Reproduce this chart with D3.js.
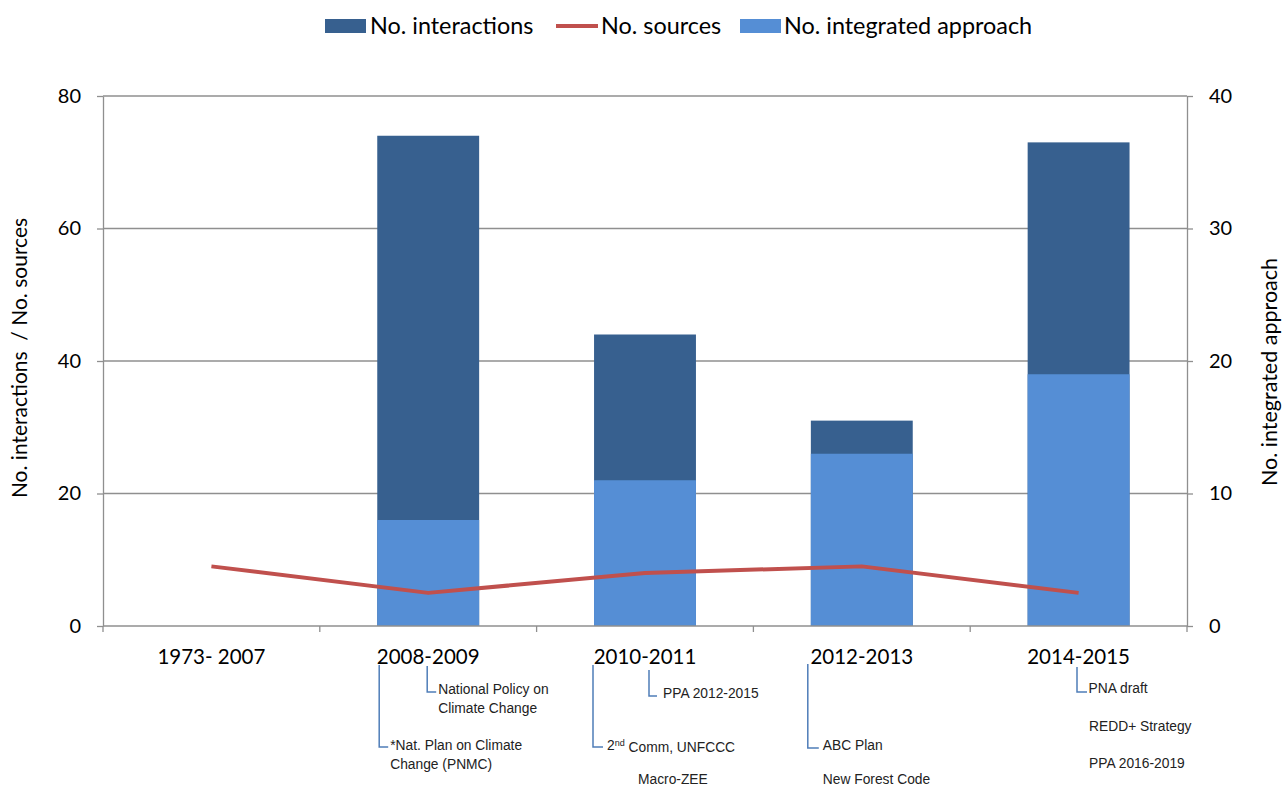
<!DOCTYPE html>
<html><head><meta charset="utf-8">
<script src="https://cdn.jsdelivr.net/npm/d3@7"></script>
<style>body{margin:0;background:#fff}svg{display:block}</style>
</head><body>
<svg id="c" width="1283" height="787"></svg>
<script>
// ---- data ----
const categories = ["1973- 2007","2008-2009","2010-2011","2012-2013","2014-2015"];
const interactions = [0, 74, 44, 31, 73];       // left axis
const sources = [9, 5, 8, 9, 5];                 // left axis (line)
const integrated = [0, 8, 11, 13, 19];           // right axis
const leftTicks = [0, 20, 40, 60, 80];
const rightTicks = [0, 10, 20, 30, 40];
const legendLabels = ["No. interactions", "No. sources", "No. integrated approach"];
const leftTitle = "No. interactions  / No. sources";
const rightTitle = "No. integrated approach";
// annotation texts below categories
const annotationTexts = [
  {cat: 1, text: ["*Nat. Plan on Climate", "Change (PNMC)"]},
  {cat: 1, text: ["National Policy on", "Climate Change"]},
  {cat: 2, text: ["2|nd| Comm, UNFCCC"]},
  {cat: 2, text: ["Macro-ZEE"]},
  {cat: 2, text: ["PPA 2012-2015"]},
  {cat: 3, text: ["ABC Plan"]},
  {cat: 3, text: ["New Forest Code"]},
  {cat: 4, text: ["PNA draft"]},
  {cat: 4, text: ["REDD+ Strategy"]},
  {cat: 4, text: ["PPA 2016-2019"]}
];

// ---- layout ----
const svg = d3.select("#c");
const L = 103, R = 1187, T = 96, B = 626;
const darkC = "#37608F", lightC = "#558ED5", redC = "#C0504D", gridC = "#8F8F8F", annC = "#4F7DB8";
const font = "Lato, 'Open Sans', sans-serif";

const x = d3.scaleBand().domain(categories).range([L, R]).padding(0);
const yL = d3.scaleLinear().domain([0, 80]).range([B, T]);
const yR = d3.scaleLinear().domain([0, 40]).range([B, T]);
const bw = x.bandwidth() * 0.47;
const cx = c => x(c) + x.bandwidth() / 2;

// gridlines
svg.append("g").selectAll("line").data(leftTicks.filter(d => d > 0)).join("line")
  .attr("x1", L).attr("x2", R).attr("y1", d => yL(d)).attr("y2", d => yL(d))
  .attr("stroke", gridC).attr("stroke-width", 1.3);

// bars
svg.append("g").selectAll("rect").data(categories).join("rect")
  .attr("x", d => cx(d) - bw / 2).attr("width", bw)
  .attr("y", (d, i) => yL(interactions[i])).attr("height", (d, i) => B - yL(interactions[i]))
  .attr("fill", darkC);
svg.append("g").selectAll("rect").data(categories).join("rect")
  .attr("x", d => cx(d) - bw / 2).attr("width", bw)
  .attr("y", (d, i) => yR(integrated[i])).attr("height", (d, i) => B - yR(integrated[i]))
  .attr("fill", lightC);

// axes
const styleAxis = g => {
  g.select(".domain").attr("stroke", gridC).attr("stroke-width", 1.3);
  g.selectAll(".tick line").attr("stroke", gridC).attr("stroke-width", 1.3);
  g.selectAll(".tick text").attr("fill", "#000").style("font-family", font).style("font-size", "20px");
};
svg.append("g").attr("transform", `translate(${L},0)`)
  .call(d3.axisLeft(yL).tickValues(leftTicks).tickSize(6).tickPadding(16).tickSizeOuter(0))
  .call(styleAxis);
svg.append("g").attr("transform", `translate(${R},0)`)
  .call(d3.axisRight(yR).tickValues(rightTicks).tickSize(6).tickPadding(16).tickSizeOuter(0))
  .call(styleAxis);
// bottom axis
const xb = svg.append("g");
xb.append("line").attr("x1", L).attr("x2", R).attr("y1", B).attr("y2", B).attr("stroke", gridC).attr("stroke-width", 1.3);
const bounds = categories.map(c => x(c)).concat([R]);
xb.selectAll("line.t").data(bounds).join("line").attr("class", "t")
  .attr("x1", d => d).attr("x2", d => d).attr("y1", B).attr("y2", B + 6)
  .attr("stroke", gridC).attr("stroke-width", 1.3);
xb.selectAll("text").data(categories).join("text")
  .attr("x", d => cx(d)).attr("y", 664).attr("text-anchor", "middle")
  .style("font-family", font).style("font-size", "20.5px").text(d => d);

// line
const line = d3.line().x((d, i) => cx(categories[i])).y(d => yL(d));
svg.append("path").datum(sources).attr("d", line).attr("fill", "none")
  .attr("stroke", redC).attr("stroke-width", 4).attr("stroke-linejoin", "round");

// axis titles
svg.append("text").attr("transform", `translate(27,358) rotate(-90)`).attr("text-anchor", "middle")
  .style("font-family", font).style("font-size", "21px").style("white-space", "pre").text(leftTitle);
svg.append("text").attr("transform", `translate(1277,372) rotate(-90)`).attr("text-anchor", "middle")
  .style("font-family", font).style("font-size", "21.5px").text(rightTitle);

// legend
const lg = svg.append("g").style("font-family", font).style("font-size", "23.4px");
const legendPos = [{sx: 325, tx: 370, type: "rect", c: darkC}, {sx: 556, tx: 601, type: "line", c: redC}, {sx: 740, tx: 784, type: "rect", c: lightC}];
legendPos.forEach((p, i) => {
  if (p.type === "rect") lg.append("rect").attr("x", p.sx).attr("y", 19).attr("width", 41).attr("height", 14).attr("fill", p.c);
  else lg.append("line").attr("x1", p.sx).attr("x2", p.sx + 42).attr("y1", 26).attr("y2", 26).attr("stroke", p.c).attr("stroke-width", 4);
  lg.append("text").attr("x", p.tx).attr("y", 26).attr("dy", "0.36em").text(legendLabels[i]);
});

// annotations (layout offsets relative to category centre)
const annLayout = [
  {dx: -38, y: 745, br: {x: -49, y1: 665, y2: 747, x2: -40}},
  {dx: 10, y: 689, br: {x: -1, y1: 666, y2: 692, x2: 8}},
  {dx: -38, y: 745, br: {x: -52, y1: 665, y2: 747, x2: -42}},
  {dx: -7, y: 779},
  {dx: 18, y: 693, br: {x: 4, y1: 670, y2: 696, x2: 12}},
  {dx: -39, y: 745, br: {x: -54, y1: 664, y2: 748, x2: -43}},
  {dx: -39, y: 779},
  {dx: 10, y: 688, br: {x: -1.6, y1: 667, y2: 692, x2: 8.4}},
  {dx: 10.5, y: 726},
  {dx: 10.5, y: 763}
];
const ag = svg.append("g").style("font-family", "'Liberation Sans', Arial, sans-serif").style("font-size", "13.8px").attr("fill", "#222");
annotationTexts.forEach((a, i) => {
  const lay = annLayout[i];
  const c = cx(categories[a.cat]);
  if (lay.br) {
    ag.append("path").attr("d", `M${c + lay.br.x},${lay.br.y1}V${lay.br.y2}H${c + lay.br.x2}`)
      .attr("fill", "none").attr("stroke", annC).attr("stroke-width", 1.5);
  }
  a.text.forEach((t, j) => {
    const te = ag.append("text").attr("x", c + lay.dx).attr("y", lay.y + j * 19.5).attr("dy", "0.35em");
    const parts = t.split("|");
    parts.forEach((p, k) => {
      const ts = te.append("tspan").text(p);
      if (k === 1) ts.attr("dy", "-0.4em").style("font-size", "9px");
      if (k === 2) ts.attr("dy", "0.4em");
    });
  });
});
</script>
</body></html>
